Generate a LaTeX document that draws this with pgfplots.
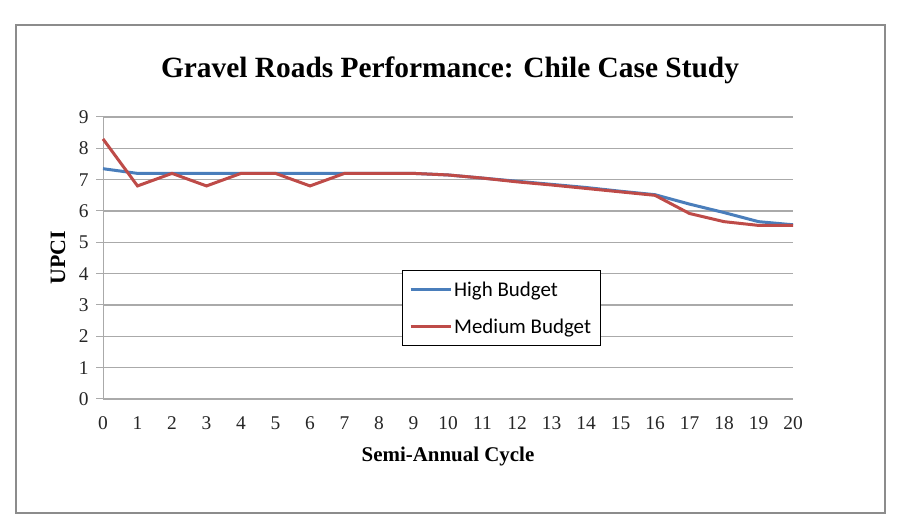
\documentclass[border=0pt]{standalone}
\usepackage{pgfplots}
\pgfplotsset{compat=1.18}
\usepackage{fontspec}
\setmainfont{Liberation Serif}
\newfontfamily\calibri{Carlito}
\definecolor{exblue}{RGB}{74,126,187}
\definecolor{exred}{RGB}{190,75,72}
\definecolor{gridgray}{RGB}{170,170,170}
\begin{document}
\begin{tikzpicture}[x=1bp,y=1bp]
\useasboundingbox (0,0) rectangle (898,532);
\draw[line width=2.5bp, color={rgb,255:red,140;green,140;blue,140}] (16,19) rectangle (885,507);
\begin{axis}[
  at={(103bp,133bp)}, anchor=south west,
  scale only axis, width=690bp, height=282bp,
  xmin=0, xmax=20, ymin=0, ymax=9,
  xtick={0,...,20}, ytick={0,...,9},
  axis x line*=bottom, axis y line*=left,
  axis line style={gridgray, line width=1bp, -},
  ymajorgrids, grid style={gridgray, line width=1.2bp},
  x tick style={draw=none},
  y tick style={gridgray, line width=1bp},
  major tick length=7bp, tick align=outside,
  tick label style={font=\fontsize{19.5}{22}\selectfont, text=black!85},
  /pgf/number format/assume math mode=true,
  xticklabel style={yshift=-7bp},
  yticklabel style={xshift=-4bp},
  legend style={at={(0.433,0.457)}, anchor=north west, draw=black, line width=0.8bp,
    font=\calibri\fontsize{21}{24}\selectfont, inner xsep=7bp, inner ysep=9bp,
    row sep=17bp, cells={anchor=west}},
  legend image code/.code={\draw[#1] (3bp,0bp) -- (43bp,0bp);},
  clip=false,
]
\addplot[exblue, line width=3bp] coordinates {
(0,7.35) (1,7.2) (2,7.2) (3,7.2) (4,7.2) (5,7.2) (6,7.2) (7,7.2) (8,7.2) (9,7.2)
(10,7.15) (11,7.05) (12,6.95) (13,6.85) (14,6.75) (15,6.63) (16,6.52) (17,6.22)
(18,5.95) (19,5.66) (20,5.56)};
\addlegendentry{High Budget}
\addplot[exred, line width=3bp] coordinates {
(0,8.3) (1,6.8) (2,7.2) (3,6.8) (4,7.2) (5,7.2) (6,6.8) (7,7.2) (8,7.2) (9,7.2)
(10,7.15) (11,7.05) (12,6.93) (13,6.83) (14,6.72) (15,6.61) (16,6.5) (17,5.92)
(18,5.66) (19,5.54) (20,5.54)};
\addlegendentry{Medium Budget}
\end{axis}
\node at (450,462) {\fontsize{29.5}{34}\selectfont\bfseries Gravel Roads Performance: Chile Case Study};
\node at (448,75) {\fontsize{21}{25}\selectfont\bfseries Semi-Annual Cycle};
\node[rotate=90] at (58,274) {\fontsize{22}{26}\selectfont\bfseries UPCI};
\end{tikzpicture}
\end{document}
